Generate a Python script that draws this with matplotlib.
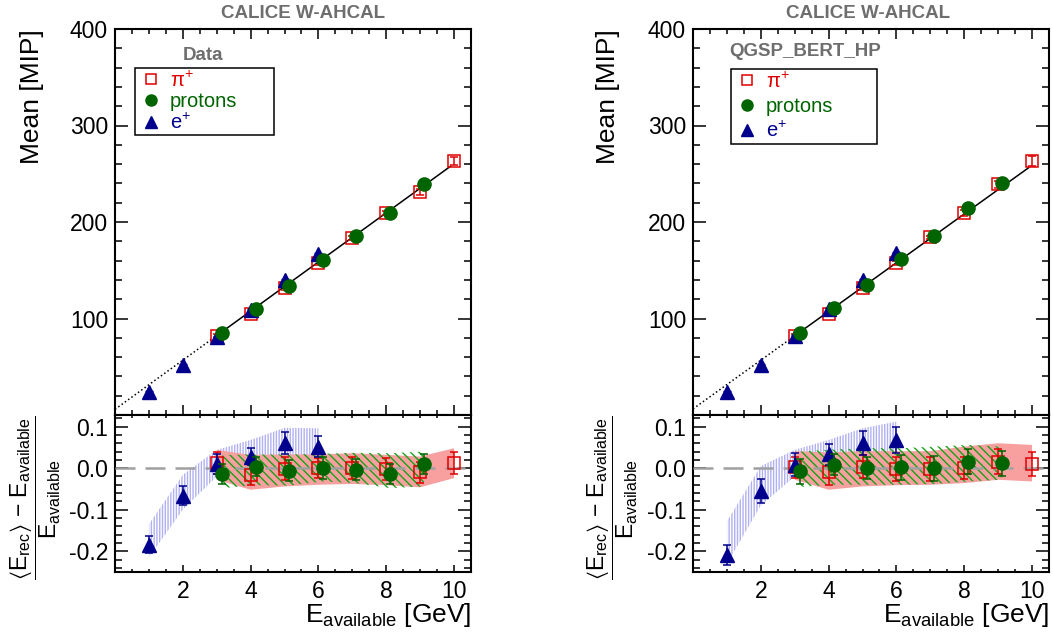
import numpy as np
import matplotlib
matplotlib.use('Agg')
import matplotlib.pyplot as plt
from matplotlib.lines import Line2D
from matplotlib.ticker import MultipleLocator, FormatStrFormatter

plt.rcParams['font.family'] = ['Liberation Sans', 'DejaVu Sans']
plt.rcParams['mathtext.fontset'] = 'custom'
plt.rcParams['mathtext.rm'] = 'Liberation Sans'
plt.rcParams['mathtext.it'] = 'Liberation Sans:italic'
plt.rcParams['mathtext.bf'] = 'Liberation Sans:bold'
plt.rcParams['mathtext.default'] = 'regular'
plt.rcParams['axes.unicode_minus'] = False
plt.rcParams['hatch.linewidth'] = 1.0

# available energies [GeV]
e_pi = [3, 4, 5, 6, 7, 8, 9, 10]
e_p = [3.17, 4.15, 5.14, 6.13, 7.12, 8.11, 9.11]
e_pos = [1, 2, 3, 4, 5, 6]

# ---- Data (left) ----
data_mean_pi = [81.8, 104.8, 132, 157.7, 183, 209, 231, 263]
data_mean_pi_err = [2, 2, 2, 2, 2, 2, 3, 4]
data_mean_p = [84.5, 110, 134, 161, 186, 209, 239]
data_mean_p_err = [2, 2, 2, 2, 2, 3, 4]
data_mean_pos = [24, 51.5, 81, 109, 140, 167]
data_mean_pos_err = [1, 1, 1, 1, 1, 1]
data_fit = (25.45, 5.9)

data_dev_pi = [0.012, -0.016, -0.001, 0.0, 0.0, -0.002, -0.010, 0.012]
data_dev_pi_err = [0.026, 0.025, 0.027, 0.024, 0.026, 0.026, 0.026, 0.026]
data_band_pi_lo = [-0.028, -0.052, -0.044, -0.040, -0.038, -0.041, -0.046, -0.024]
data_band_pi_hi = [0.044, 0.032, 0.033, 0.033, 0.036, 0.032, 0.028, 0.048]
data_dev_p = [-0.014, 0.004, -0.006, 0.0, -0.004, -0.014, 0.010]
data_dev_p_err = [0.025, 0.024, 0.025, 0.026, 0.025, 0.025, 0.024]
data_band_p_lo = [-0.048, -0.041, -0.042, -0.032, -0.036, -0.048, -0.044]
data_band_p_hi = [0.032, 0.033, 0.033, 0.035, 0.037, 0.036, 0.040]
data_dev_pos = [-0.184, -0.066, 0.010, 0.028, 0.060, 0.052]
data_dev_pos_err = [0.020, 0.023, 0.025, 0.021, 0.026, 0.026]
data_band_pos_lo = [-0.215, -0.10, -0.02, 0.0, 0.02, 0.015]
data_band_pos_hi = [-0.135, -0.016, 0.044, 0.068, 0.097, 0.096]

# ---- QGSP_BERT_HP (right) ----
mc_mean_pi = [81.8, 104.8, 132, 157.5, 184, 209.6, 239, 263]
mc_mean_pi_err = [2, 2, 2, 2, 2, 3, 4, 5]
mc_mean_p = [85, 111, 134.4, 161.5, 186, 214, 240]
mc_mean_p_err = [2, 2, 2, 2, 3, 4, 5]
mc_mean_pos = [24, 51.8, 82, 110, 140, 168]
mc_mean_pos_err = [1, 1, 1, 1, 1, 1]
mc_fit = (25.25, 6.3)

mc_dev_pi = [0.002, -0.010, 0.004, -0.002, -0.002, 0.0, 0.016, 0.010]
mc_dev_pi_err = [0.026, 0.030, 0.027, 0.028, 0.028, 0.027, 0.029, 0.030]
mc_band_pi_lo = [-0.028, -0.052, -0.044, -0.041, -0.040, -0.036, -0.028, -0.032]
mc_band_pi_hi = [0.041, 0.038, 0.041, 0.041, 0.041, 0.052, 0.060, 0.056]
mc_dev_p = [-0.008, 0.008, 0.0, 0.002, 0.0, 0.016, 0.012]
mc_dev_p_err = [0.030, 0.025, 0.027, 0.030, 0.030, 0.029, 0.030]
mc_band_p_lo = [-0.045, -0.040, -0.040, -0.040, -0.038, -0.032, -0.028]
mc_band_p_hi = [0.040, 0.045, 0.048, 0.048, 0.052, 0.056, 0.052]
mc_dev_pos = [-0.208, -0.054, 0.008, 0.033, 0.060, 0.068]
mc_dev_pos_err = [0.024, 0.029, 0.028, 0.025, 0.029, 0.031]
mc_band_pos_lo = [-0.23, -0.09, -0.02, 0.0, 0.02, 0.03]
mc_band_pos_hi = [-0.128, 0.005, 0.044, 0.068, 0.096, 0.112]

fit_range = (3.0, 9.9)
x_ticks = [2, 4, 6, 8, 10]

RED = '#e00000'
GREEN = '#006400'
BLUE = '#00008c'
GREY = '#6e6e6e'

W, H = 1053, 637
fig = plt.figure(figsize=(W / 100, H / 100), dpi=100)


def style_axes(ax, xmaj, xmin):
    for s in ax.spines.values():
        s.set_linewidth(1.5)
    ax.tick_params(which='both', direction='in', top=True, right=True,
                   width=1.1, labelsize=16.5, pad=5)
    ax.tick_params(axis='x', which='major', length=xmaj)
    ax.tick_params(axis='x', which='minor', length=xmin)
    ax.tick_params(axis='y', which='major', length=9.4)
    ax.tick_params(axis='y', which='minor', length=4.7)
    ax.set_xlim(0, 10.5)
    ax.set_xticks(x_ticks)
    ax.xaxis.set_minor_locator(MultipleLocator(0.5))


def panel(x0, d):
    ax = fig.add_axes([x0 / W, 1 - 415 / H, 356 / W, 386 / H])
    axr = fig.add_axes([x0 / W, 1 - 572 / H, 356 / W, 157 / H])
    style_axes(ax, 7, 3.6)
    style_axes(axr, 5, 2.5)
    axr.tick_params(top=False)

    # top: mean response
    slope, icpt = d['fit']
    xs = np.array([0, fit_range[0]])
    ax.plot(xs, slope * xs + icpt, ls=':', color='k', lw=1.1, zorder=2)
    xs = np.array(fit_range)
    ax.plot(xs, slope * xs + icpt, ls='-', color='k', lw=1.1, zorder=2)
    ax.errorbar(e_pi, d['mean_pi'], yerr=d['mean_pi_err'], fmt='s', ms=8.5,
                mfc='none', mec=RED, mew=1.1, ecolor=RED, elinewidth=1.1,
                capsize=2.8, zorder=3)
    ax.errorbar(e_pos, d['mean_pos'], yerr=d['mean_pos_err'], fmt='^', ms=10.5,
                color=BLUE, elinewidth=1.1, capsize=2.8, zorder=4)
    ax.errorbar(e_p, d['mean_p'], yerr=d['mean_p_err'], fmt='o', ms=9.5,
                color=GREEN, elinewidth=1.1, capsize=2.8, zorder=5)
    ax.set_ylim(0, 400)
    ax.set_yticks([100, 200, 300, 400])
    ax.yaxis.set_minor_locator(MultipleLocator(20))
    ax.tick_params(axis='x', labelbottom=False)

    # bottom: relative deviation
    axr.fill_between(e_pos, d['band_pos_lo'], d['band_pos_hi'], facecolor='none',
                     edgecolor='#b0b0f2', hatch='||||||', linewidth=0, zorder=1)
    axr.fill_between(e_pi, d['band_pi_lo'], d['band_pi_hi'], facecolor='#f8a0a0',
                     linewidth=0, zorder=2)
    axr.fill_between(e_p, d['band_p_lo'], d['band_p_hi'], facecolor='none',
                     edgecolor='#18a018', hatch='\\\\\\\\', linewidth=0, zorder=3)
    axr.axhline(0, color='#a0a0a0', lw=1.8, dashes=(8, 4), zorder=4)
    axr.errorbar(e_pi, d['dev_pi'], yerr=d['dev_pi_err'], fmt='s', ms=8.5,
                 mfc='none', mec=RED, mew=1.1, ecolor=RED, elinewidth=1.1,
                 capsize=2.8, capthick=1.1, zorder=5)
    axr.errorbar(e_pos, d['dev_pos'], yerr=d['dev_pos_err'], fmt='^', ms=10.5,
                 color=BLUE, elinewidth=1.1, capsize=2.8, capthick=1.1, zorder=6)
    axr.errorbar(e_p, d['dev_p'], yerr=d['dev_p_err'], fmt='o', ms=9.5,
                 color=GREEN, elinewidth=1.1, capsize=2.8, capthick=1.1, zorder=7)
    axr.set_ylim(-0.25, 0.128)
    axr.yaxis.set_major_locator(MultipleLocator(0.1))
    axr.yaxis.set_minor_locator(MultipleLocator(0.02))
    axr.yaxis.set_major_formatter(FormatStrFormatter('%.1f'))
    axr.tick_params(axis='x', pad=6)

    # legend
    handles = [Line2D([], [], ls='none', marker='s', ms=7.5, mfc='none', mec=RED, mew=1.1),
               Line2D([], [], ls='none', marker='o', ms=8, color=GREEN),
               Line2D([], [], ls='none', marker='^', ms=8.5, color=BLUE)]
    labels = [r'$\pi^{+}$', 'protons', r'e$^{+}$']
    leg = ax.legend(handles, labels, loc='upper left', mode='expand',
                    bbox_to_anchor=d['leg_box'], bbox_transform=fig.transFigure,
                    fontsize=14.5, labelcolor=[RED, GREEN, BLUE], frameon=True,
                    fancybox=False, framealpha=1, edgecolor='k', borderpad=0.12,
                    labelspacing=d['leg_space'], handletextpad=0.3, handlelength=1.3,
                    borderaxespad=0)
    leg.get_frame().set_linewidth(1.1)
    return ax, axr


panel(115, dict(
    fit=data_fit,
    mean_pi=data_mean_pi, mean_pi_err=data_mean_pi_err,
    mean_p=data_mean_p, mean_p_err=data_mean_p_err,
    mean_pos=data_mean_pos, mean_pos_err=data_mean_pos_err,
    dev_pi=data_dev_pi, dev_pi_err=data_dev_pi_err,
    band_pi_lo=data_band_pi_lo, band_pi_hi=data_band_pi_hi,
    dev_p=data_dev_p, dev_p_err=data_dev_p_err,
    band_p_lo=data_band_p_lo, band_p_hi=data_band_p_hi,
    dev_pos=data_dev_pos, dev_pos_err=data_dev_pos_err,
    band_pos_lo=data_band_pos_lo, band_pos_hi=data_band_pos_hi,
    leg_box=(135 / W, 1 - 135 / H, 139 / W, 67 / H), leg_space=0.08))

panel(693, dict(
    fit=mc_fit,
    mean_pi=mc_mean_pi, mean_pi_err=mc_mean_pi_err,
    mean_p=mc_mean_p, mean_p_err=mc_mean_p_err,
    mean_pos=mc_mean_pos, mean_pos_err=mc_mean_pos_err,
    dev_pi=mc_dev_pi, dev_pi_err=mc_dev_pi_err,
    band_pi_lo=mc_band_pi_lo, band_pi_hi=mc_band_pi_hi,
    dev_p=mc_dev_p, dev_p_err=mc_dev_p_err,
    band_p_lo=mc_band_p_lo, band_p_hi=mc_band_p_hi,
    dev_pos=mc_dev_pos, dev_pos_err=mc_dev_pos_err,
    band_pos_lo=mc_band_pos_lo, band_pos_hi=mc_band_pos_hi,
    leg_box=(731 / W, 1 - 143 / H, 146 / W, 74 / H), leg_space=0.26))

# texts
for cx, lx, rlx, right, tag, tx, ty in [(303, 32, 35.5, 471, 'Data', 203, 55),
                                        (868, 608, 612.5, 1049, 'QGSP_BERT_HP', 805, 52)]:
    fig.text(cx / W, 1 - 14 / H, 'CALICE W-AHCAL', ha='center', va='center',
             fontsize=13.5, weight='bold', color=GREY)
    fig.text(tx / W, 1 - ty / H, tag, ha='center', va='center',
             fontsize=13.5, weight='bold', color=GREY)
    fig.text(lx / W, 1 - 29 / H, 'Mean [MIP]', rotation=90, ha='center', va='top',
             fontsize=19)
    fig.text(rlx / W, 1 - 416 / H,
             r'$\dfrac{\langle E_{rec}\rangle\ \mathrm{-}\ E_{available}}{E_{available}}$',
             rotation=90, ha='center', va='top', fontsize=16.5)
    fig.text(right / W, 1 - 622 / H, r'E$_{available}$ [GeV]', ha='right',
             va='baseline', fontsize=19)

plt.savefig('out.png', dpi=100)
